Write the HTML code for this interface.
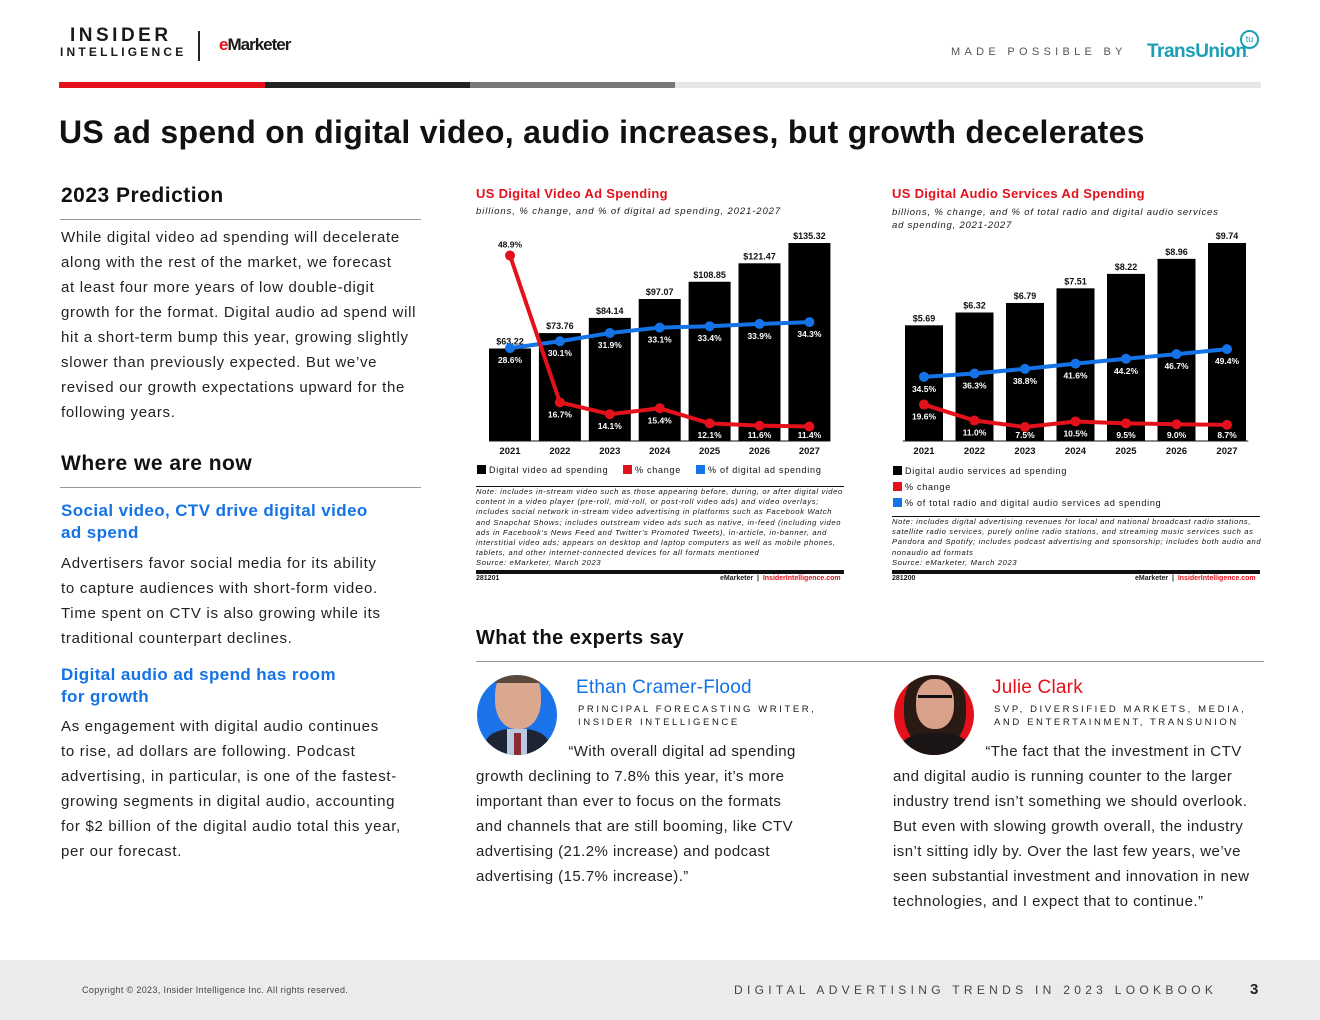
<!DOCTYPE html>
<html><head><meta charset="utf-8">
<style>
*{margin:0;padding:0;box-sizing:border-box}
body{width:1320px;height:1020px;position:relative;background:#fff;font-family:"Liberation Sans",sans-serif;color:#1a1a1a;overflow:hidden}
.a{position:absolute;white-space:nowrap}
.body{font-size:15px;line-height:25px;letter-spacing:0.7px;color:#222}
.q{letter-spacing:0.45px}
.blue{color:#1473e6}
.note{font-size:7.6px;font-style:italic;line-height:10.2px;color:#111;letter-spacing:0.65px}
</style></head><body>
<div class="a" style="left:60px;top:27px;font-weight:bold;line-height:17px">
<div style="font-size:19px;letter-spacing:3.5px;padding-left:10px">INSIDER</div>
<div style="font-size:12px;letter-spacing:3.2px">INTELLIGENCE</div></div>
<div class="a" style="left:198px;top:31px;width:2px;height:30px;background:#222"></div>
<div class="a" style="left:219px;top:35px;font-size:17px;font-weight:bold;letter-spacing:-1px"><span style="color:#e3111b">e</span>Marketer</div>
<div class="a" style="left:951px;top:46px;font-size:11px;letter-spacing:4.3px;color:#555">MADE POSSIBLE BY</div>
<div class="a" style="left:1147px;top:41px;font-size:19px;color:#1a9fb5;font-weight:bold;letter-spacing:-0.5px">TransUnion<span style="font-size:8px">.</span></div>
<div class="a" style="left:1240px;top:30px;width:19px;height:19px;border:2px solid #1a9fb5;border-radius:50%;font-size:9px;color:#1a9fb5;text-align:center;line-height:15px">tu</div>
<div class="a" style="left:59px;top:82px;width:1202px;height:6px;background:linear-gradient(90deg,#e3111b 0 206px,#222 206px 411px,#777 411px 616px,#e6e6e6 616px)"></div>
<div class="a" style="left:59px;top:114px;font-size:32px;font-weight:bold;letter-spacing:0.3px;color:#111">US ad spend on digital video, audio increases, but growth decelerates</div>

<div class="a" style="left:61px;top:184px;font-size:21px;font-weight:bold;color:#111;letter-spacing:0.5px">2023 Prediction</div>
<div class="a" style="left:60px;top:219px;width:361px;height:1px;background:#999"></div>
<div class="a body" style="left:61px;top:225px">While digital video ad spending will decelerate<br>along with the rest of the market, we forecast<br>at least four more years of low double-digit<br>growth for the format. Digital audio ad spend will<br>hit a short-term bump this year, growing slightly<br>slower than previously expected. But we’ve<br>revised our growth expectations upward for the<br>following years.</div>
<div class="a" style="left:61px;top:452px;font-size:21px;font-weight:bold;color:#111;letter-spacing:0.5px">Where we are now</div>
<div class="a" style="left:60px;top:487px;width:361px;height:1px;background:#999"></div>
<div class="a blue" style="left:61px;top:500px;font-size:17px;font-weight:bold;line-height:22px;letter-spacing:0.4px">Social video, CTV drive digital video<br>ad spend</div>
<div class="a body" style="left:61px;top:551px">Advertisers favor social media for its ability<br>to capture audiences with short-form video.<br>Time spent on CTV is also growing while its<br>traditional counterpart declines.</div>
<div class="a blue" style="left:61px;top:664px;font-size:17px;font-weight:bold;line-height:22px;letter-spacing:0.4px">Digital audio ad spend has room<br>for growth</div>
<div class="a body" style="left:61px;top:714px">As engagement with digital audio continues<br>to rise, ad dollars are following. Podcast<br>advertising, in particular, is one of the fastest-<br>growing segments in digital audio, accounting<br>for $2 billion of the digital audio total this year,<br>per our forecast.</div>

<div class="a" style="left:476px;top:186px;font-size:13px;font-weight:bold;color:#e3111b;letter-spacing:0.3px">US Digital Video Ad Spending</div>
<div class="a" style="left:476px;top:206px;font-size:9.5px;font-style:italic;letter-spacing:0.9px">billions, % change, and % of digital ad spending, 2021-2027</div>
<div class="a" style="left:892px;top:186px;font-size:13px;font-weight:bold;color:#e3111b;letter-spacing:0.3px">US Digital Audio Services Ad Spending</div>
<div class="a" style="left:892px;top:206px;font-size:9.5px;font-style:italic;line-height:13px;letter-spacing:0.8px">billions, % change, and % of total radio and digital audio services<br>ad spending, 2021-2027</div>

<svg class="a" style="left:0;top:0" width="1320" height="1020" id="charts"></svg>

<div class="a" style="left:476px;top:486px;width:368px;height:1px;background:#111"></div>
<div class="a note" style="left:476px;top:487px">Note: includes in-stream video such as those appearing before, during, or after digital video<br>content in a video player (pre-roll, mid-roll, or post-roll video ads) and video overlays;<br>includes social network in-stream video advertising in platforms such as Facebook Watch<br>and Snapchat Shows; includes outstream video ads such as native, in-feed (including video<br>ads in Facebook's News Feed and Twitter's Promoted Tweets), in-article, in-banner, and<br>interstitial video ads; appears on desktop and laptop computers as well as mobile phones,<br>tablets, and other internet-connected devices for all formats mentioned<br>Source: eMarketer, March 2023</div>
<div class="a" style="left:476px;top:570px;width:368px;height:4px;background:#111"></div>
<div class="a" style="left:476px;top:575px;font-size:7px;font-weight:bold">281201</div>
<div class="a" style="left:720px;top:575px;font-size:7px;font-weight:bold">eMarketer &nbsp;|&nbsp; <span style="color:#e3111b">InsiderIntelligence.com</span></div>

<div class="a" style="left:892px;top:516px;width:368px;height:1px;background:#111"></div>
<div class="a note" style="left:892px;top:517px">Note: includes digital advertising revenues for local and national broadcast radio stations,<br>satellite radio services, purely online radio stations, and streaming music services such as<br>Pandora and Spotify; includes podcast advertising and sponsorship; includes both audio and<br>nonaudio ad formats<br>Source: eMarketer, March 2023</div>
<div class="a" style="left:892px;top:570px;width:368px;height:4px;background:#111"></div>
<div class="a" style="left:892px;top:575px;font-size:7px;font-weight:bold">281200</div>
<div class="a" style="left:1135px;top:575px;font-size:7px;font-weight:bold">eMarketer &nbsp;|&nbsp; <span style="color:#e3111b">InsiderIntelligence.com</span></div>

<div class="a" style="left:476px;top:627px;font-size:20px;font-weight:bold;color:#111;letter-spacing:0.4px">What the experts say</div>
<div class="a" style="left:476px;top:661px;width:788px;height:1px;background:#999"></div>

<div class="a" style="left:477px;top:675px;width:80px;height:80px;border-radius:50%;background:#1a73e8;overflow:hidden">
<div style="position:absolute;left:18px;top:-8px;width:46px;height:62px;border-radius:45%;background:#d9a88f"></div>
<div style="position:absolute;left:18px;top:-8px;width:46px;height:16px;border-radius:40% 40% 0 0;background:#5a4a3e"></div>
<div style="position:absolute;left:8px;top:54px;width:64px;height:40px;border-radius:40% 40% 0 0;background:#1e2433"></div>
<div style="position:absolute;left:30px;top:54px;width:20px;height:30px;background:#b8c9e0"></div>
<div style="position:absolute;left:37px;top:58px;width:7px;height:24px;background:#8a2a35"></div></div>
<div class="a" style="left:576px;top:677px;font-size:19px;color:#1473e6;letter-spacing:0.2px">Ethan Cramer-Flood</div>
<div class="a" style="left:578px;top:703px;font-size:9.5px;letter-spacing:2.6px;line-height:13px">PRINCIPAL FORECASTING WRITER,<br>INSIDER INTELLIGENCE</div>
<div class="a body q" style="left:476px;top:739px">&nbsp;&nbsp;&nbsp;&nbsp;&nbsp;&nbsp;&nbsp;&nbsp;&nbsp;&nbsp;&nbsp;&nbsp;&nbsp;&nbsp;&nbsp;&nbsp;&nbsp;&nbsp;&nbsp;&nbsp;“With overall digital ad spending<br>growth declining to 7.8% this year, it’s more<br>important than ever to focus on the formats<br>and channels that are still booming, like CTV<br>advertising (21.2% increase) and podcast<br>advertising (15.7% increase).”</div>

<div class="a" style="left:894px;top:675px;width:80px;height:80px;border-radius:50%;background:#e3111b;overflow:hidden">
<div style="position:absolute;left:10px;top:-6px;width:62px;height:80px;border-radius:45%;background:#2a1a14"></div>
<div style="position:absolute;left:22px;top:4px;width:38px;height:50px;border-radius:45%;background:#d9a08a"></div>
<div style="position:absolute;left:24px;top:20px;width:34px;height:8px;border-top:3px solid #111"></div>
<div style="position:absolute;left:6px;top:58px;width:70px;height:40px;border-radius:40% 40% 0 0;background:#1a1414"></div></div>
<div class="a" style="left:992px;top:677px;font-size:19px;color:#e3111b;letter-spacing:0.2px">Julie Clark</div>
<div class="a" style="left:994px;top:703px;font-size:9.5px;letter-spacing:2.6px;line-height:13px">SVP, DIVERSIFIED MARKETS, MEDIA,<br>AND ENTERTAINMENT, TRANSUNION</div>
<div class="a body q" style="left:893px;top:739px">&nbsp;&nbsp;&nbsp;&nbsp;&nbsp;&nbsp;&nbsp;&nbsp;&nbsp;&nbsp;&nbsp;&nbsp;&nbsp;&nbsp;&nbsp;&nbsp;&nbsp;&nbsp;&nbsp;&nbsp;“The fact that the investment in CTV<br>and digital audio is running counter to the larger<br>industry trend isn’t something we should overlook.<br>But even with slowing growth overall, the industry<br>isn’t sitting idly by. Over the last few years, we’ve<br>seen substantial investment and innovation in new<br>technologies, and I expect that to continue.”</div>

<div class="a" style="left:0;top:960px;width:1320px;height:60px;background:#ebebeb"></div>
<div class="a" style="left:82px;top:985px;font-size:9px;color:#444;letter-spacing:0.35px">Copyright © 2023, Insider Intelligence Inc. All rights reserved.</div>
<div class="a" style="left:734px;top:983px;font-size:12px;letter-spacing:4.3px;color:#444">DIGITAL ADVERTISING TRENDS IN 2023 LOOKBOOK</div>
<div class="a" style="left:1250px;top:981px;font-size:15px;font-weight:bold;color:#222">3</div>

<script>
const years = ["2021","2022","2023","2024","2025","2026","2027"];
const videoSpend = [63.22,73.76,84.14,97.07,108.85,121.47,135.32];
const videoChange = [48.9,16.7,14.1,15.4,12.1,11.6,11.4];
const videoShare = [28.6,30.1,31.9,33.1,33.4,33.9,34.3];
const audioSpend = [5.69,6.32,6.79,7.51,8.22,8.96,9.74];
const audioChange = [19.6,11.0,7.5,10.5,9.5,9.0,8.7];
const audioShare = [34.5,36.3,38.8,41.6,44.2,46.7,49.4];

const svg = document.getElementById('charts');
const NS = 'http://www.w3.org/2000/svg';
function mk(tag, attrs, parent){
  const e = document.createElementNS(NS, tag);
  for (const k in attrs) e.setAttribute(k, attrs[k]);
  (parent||svg).appendChild(e);
  return e;
}
function txt(x,y,s,attrs,parent){
  const t = mk('text', Object.assign({x:x,y:y,'font-family':'Liberation Sans, sans-serif','font-size':9.5,'font-weight':'bold','text-anchor':'middle'},attrs||{}), parent);
  t.textContent = s;
  return t;
}
function draw(cfg){
  const g = mk('g',{});
  
  
  const xPos = i => cfg.x0 + i*cfg.step;
  const yBar = v => cfg.base - v*cfg.barScale;
  const yPct = v => cfg.pctZero - v*cfg.pctScale;
  cfg.spend.forEach((v,i)=>{
    const r = mk('rect',{x:xPos(i)-cfg.bw/2,y:yBar(v),width:cfg.bw,height:cfg.base-yBar(v),fill:'#000'},g);
    
    
    const l = txt(xPos(i), yBar(v)-4, '$'+v.toFixed(2), {'font-size':9,fill:'#111'}, g);
    
    
    const yl = txt(xPos(i), cfg.base+13, years[i], {'font-size':9.5,fill:'#111'}, g);
    
    
  });
  const ax = mk('line',{x1:cfg.x0-cfg.step/2+4,x2:cfg.x0+6.5*cfg.step-4,y1:cfg.base,y2:cfg.base,stroke:'#111','stroke-width':1},g);
  
  
  [[cfg.share,'#1473e6','share'],[cfg.change,'#e3111b','change']].forEach(([arr,col,nm])=>{
    const pts = arr.map((v,i)=>xPos(i)+','+yPct(v)).join(' ');
    const pl = mk('polyline',{points:pts,fill:'none',stroke:col,'stroke-width':4,'stroke-linejoin':'round'},g);
    
    
    arr.forEach((v,i)=>{
      const c = mk('circle',{cx:xPos(i),cy:yPct(v),r:5,fill:col},g);
      
      
      let ly = Math.min(yPct(v)+15, cfg.base-3), fill='#fff';
      if (nm==='change' && yPct(v) < cfg.topLabelLimit){ ly = yPct(v)-8; fill='#111'; }
      const t = txt(xPos(i), ly, v.toFixed(1)+'%', {'font-size':8.5,fill:fill}, g);
      
      
    });
  });
  cfg.legend.forEach((lg,k)=>{
    const r = mk('rect',{x:lg[0],y:lg[1]-8,width:9,height:9,fill:lg[3]},g);
    
    
    const t = txt(lg[0]+12, lg[1], lg[2], {'font-size':9,'font-weight':'normal','text-anchor':'start',fill:'#111','letter-spacing':0.75}, g);
    
    
  });
}
draw({name:'video-chart',spend:videoSpend,change:videoChange,share:videoShare,x0:510,step:49.9,bw:42,base:441,barScale:1.463,pctZero:478.5,pctScale:4.56,topLabelLimit:300,
  legend:[[477,473,'Digital video ad spending','#000'],[623,473,'% change','#e3111b'],[696,473,'% of digital ad spending','#1473e6']]});
draw({name:'audio-chart',spend:audioSpend,change:audioChange,share:audioShare,x0:924,step:50.5,bw:38,base:441,barScale:20.33,pctZero:441,pctScale:1.86,topLabelLimit:0,
  legend:[[893,474,'Digital audio services ad spending','#000'],[893,490,'% change','#e3111b'],[893,506,'% of total radio and digital audio services ad spending','#1473e6']]});
</script>
</body></html>
